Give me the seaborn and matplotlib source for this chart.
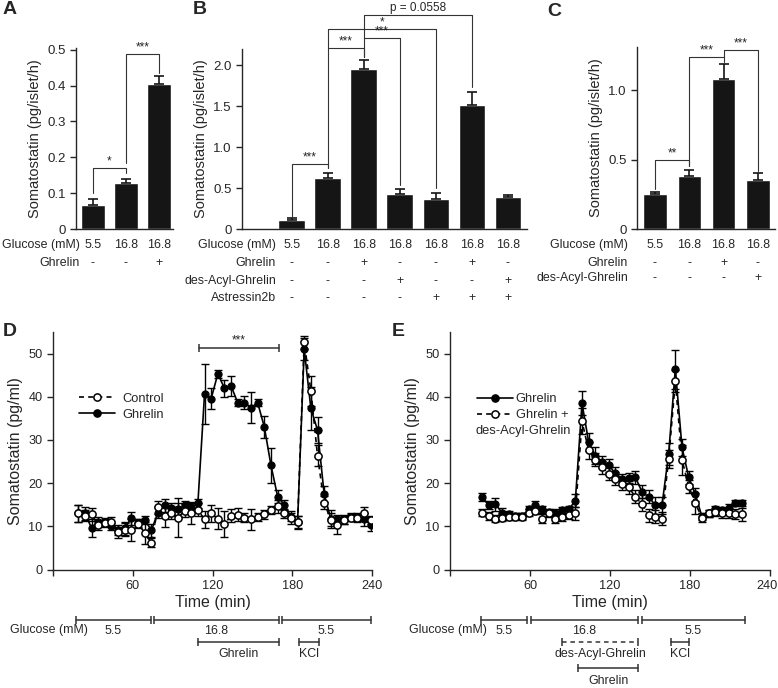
import numpy as np
import pandas as pd
import matplotlib
matplotlib.use('Agg')
import matplotlib.pyplot as plt
import matplotlib.transforms as mtransforms
from matplotlib.ticker import FuncFormatter
from matplotlib.lines import Line2D
import seaborn as sns

sns.set_style('ticks')
plt.rcParams['font.family'] = ['Liberation Sans', 'DejaVu Sans']
plt.rcParams['axes.linewidth'] = 1.0
plt.rcParams['xtick.major.width'] = 1.0
plt.rcParams['ytick.major.width'] = 1.0

# ---- bar panels (A, B, C) ----
A_glucose = ['5.5', '16.8', '16.8']
A_ghrelin = ['-', '-', '+']
A_mean = [0.068, 0.128, 0.405]
A_sem = [0.016, 0.011, 0.021]

B_glucose = ['5.5', '16.8', '16.8', '16.8', '16.8', '16.8', '16.8']
B_ghrelin = ['-', '-', '+', '-', '-', '+', '-']
B_dag = ['-', '-', '-', '+', '-', '-', '+']
B_ast = ['-', '-', '-', '-', '+', '+', '+']
B_mean = [0.11, 0.62, 1.95, 0.43, 0.37, 1.51, 0.39]
B_sem = [0.02, 0.07, 0.12, 0.06, 0.07, 0.16, 0.025]

C_glucose = ['5.5', '16.8', '16.8', '16.8']
C_ghrelin = ['-', '-', '+', '-']
C_dag = ['-', '-', '-', '+']
C_mean = [0.255, 0.385, 1.08, 0.355]
C_sem = [0.012, 0.04, 0.105, 0.045]

# significance brackets: (bar i, bar j, top, left leg end, right leg end, label)
A_sig = [(0, 1, 0.17, 0.10, 0.155, '*'), (1, 2, 0.488, 0.183, 0.435, '***')]
B_sig = [(0, 1, 0.80, 0.15, 0.74, '***'), (1, 2, 2.21, 0.74, 2.10, '***'),
         (2, 3, 2.33, 2.10, 0.54, '***'), (1, 4, 2.44, 2.21, 0.50, '*'),
         (2, 5, 2.62, 2.33, 1.73, 'p = 0.0558')]
C_sig = [(0, 1, 0.50, 0.285, 0.45, '**'), (1, 2, 1.24, 0.45, 1.20, '***'),
         (2, 3, 1.29, 1.24, 0.42, '***')]

# ---- perifusion time courses (D, E) ----
D_time = [19, 24, 29, 34, 39, 44, 49, 54, 59, 64, 69, 74, 79, 84, 89, 94, 99, 104, 109,
          114, 119, 124, 129, 134, 139, 144, 149, 154, 159, 164, 169, 174, 179, 184,
          189, 194, 199, 204, 209, 214, 219, 224, 229, 234, 239]
D_ghrelin = [13.0, 13.0, 9.6, 11.1, 11.1, 10.0, 9.2, 9.6, 11.9, 10.8, 11.5, 9.1, 13.2, 14.9,
             14.2, 13.9, 14.9, 14.4, 15.3,
             40.6, 39.6, 45.3, 42.0, 42.5, 38.6, 38.6, 37.5, 38.6, 33.0, 24.1, 16.9, 15.0,
             12.2, 10.9,
             51.0, 37.3, 32.3, 17.5, 11.7, 11.6, 11.6, 12.2, 12.0, 11.6, 10.4]
D_ghrelin_err = [2.0, 1.5, 2.0, 1.0, 0.8, 0.8, 1.2, 1.5, 1.5, 1.0, 1.0, 1.5, 1.2, 1.5, 1.2,
                 1.5, 1.0, 1.2, 1.0,
                 7.0, 2.5, 1.0, 2.0, 2.3, 0.8, 1.5, 3.6, 0.8, 2.5, 4.0, 1.5, 1.2, 1.0, 1.5,
                 2.5, 5.0, 3.0, 1.8, 2.0, 1.0, 1.0, 0.8, 0.8, 1.5, 1.5]
D_control = [13.0, 12.5, 12.8, 10.2, 10.8, 11.1, 8.6, 9.2, 9.1, 10.6, 8.5, 6.2, 14.4, 12.3,
             13.2, 12.0, 13.6, 13.0, 13.8,
             11.6, 13.0, 11.8, 10.6, 12.4, 12.7, 12.0, 11.6, 12.2, 12.8, 13.8, 14.7, 13.0,
             12.0, 11.0,
             52.6, 41.4, 26.4, 15.5, 11.5, 10.2, 11.5, 12.0, 12.0, 13.0, 11.5]
D_control_err = [2.0, 1.2, 1.5, 1.0, 1.0, 1.0, 1.2, 1.5, 2.5, 1.0, 2.5, 1.0, 1.5, 2.5, 1.5,
                 4.5, 1.5, 2.5, 1.5,
                 2.0, 2.0, 2.5, 3.0, 1.5, 1.5, 1.0, 2.5, 1.0, 1.0, 1.0, 1.5, 1.0, 1.5, 1.5,
                 1.5, 3.5, 2.5, 1.5, 1.5, 2.0, 1.0, 0.8, 1.0, 1.5, 1.0]

E_time = [24, 29, 34, 39, 44, 49, 54, 59, 64, 69, 74, 79, 84, 89, 94, 99, 104, 109, 114,
          119, 124, 129, 134, 139, 144, 149, 154, 159, 164, 169, 174, 179, 184, 189, 194,
          199, 204, 209, 214, 219]
E_ghrelin = [16.8, 14.9, 15.1, 13.2, 12.8, 12.4, 12.4, 13.9, 14.9, 13.9, 13.3, 13.1, 13.7,
             13.9, 15.9, 38.5, 29.5, 26.4, 24.9, 24.1, 22.3, 21.0, 21.2, 21.4, 18.0, 16.8,
             14.9, 14.9, 26.8, 46.4, 28.3, 21.4, 17.4, 12.2, 13.0, 13.9, 13.7, 14.3, 15.4, 15.4]
E_ghrelin_err = [1.0, 1.0, 1.5, 1.0, 0.8, 0.8, 0.8, 0.8, 1.0, 0.8, 0.8, 0.8, 0.8, 0.8, 1.5,
                 2.8, 2.0, 2.0, 1.5, 1.5, 1.5, 1.2, 1.2, 1.5, 1.5, 1.5, 2.0, 2.0, 2.5, 4.5,
                 2.0, 1.5, 1.5, 0.8, 0.8, 0.8, 0.8, 0.8, 0.8, 0.8]
E_dag = [13.1, 12.4, 11.8, 12.0, 12.2, 12.2, 12.2, 13.1, 13.6, 11.8, 13.0, 11.8, 12.2, 12.6,
         13.0, 34.3, 27.6, 25.4, 23.7, 22.2, 21.0, 19.9, 19.1, 16.8, 15.1, 12.6, 12.2, 11.8,
         25.6, 43.6, 25.4, 19.3, 15.3, 12.0, 13.0, 13.3, 13.0, 13.0, 12.8, 12.8]
E_dag_err = [0.8, 1.0, 0.8, 0.8, 0.8, 0.8, 0.8, 0.8, 0.8, 1.0, 0.8, 1.0, 1.0, 1.0, 1.5, 3.0,
             2.0, 1.5, 1.5, 1.5, 1.5, 1.5, 1.5, 1.5, 1.5, 1.5, 1.5, 1.5, 2.0, 2.5, 3.5, 1.5,
             2.5, 1.0, 0.8, 1.0, 1.0, 1.0, 1.2, 1.5]

# protocol bars under D and E: (start, end, label)
D_glucose_periods = [(17, 74, '5.5'), (76, 170, '16.8'), (172, 239, '5.5')]
D_ghrelin_period = (109, 170)
D_kcl_period = (185, 200)
E_glucose_periods = [(23, 58, '5.5'), (60.5, 141, '16.8'), (144, 221, '5.5')]
E_dag_period = (84, 141)
E_ghrelin_period = (96, 141)
E_kcl_period = (166, 179)

W, H = 778, 688
fig = plt.figure(figsize=(W / 100, H / 100), dpi=100)
BAR = '#151515'
LINE = '#333333'
FS = 8.9


def px_axes(l, t, r, b):
    return fig.add_axes([l / W, 1 - b / H, (r - l) / W, (b - t) / H])


def below(ax, dy, dx=0, data_x=True):
    base = (mtransforms.blended_transform_factory(ax.transData, ax.transAxes)
            if data_x else ax.transAxes)
    return mtransforms.offset_copy(base, fig=fig, x=dx, y=-dy, units='dots')


def bar_panel(ax, means, sems, width, xlim, ylim, yticks, rows, label_dx, sig):
    df = pd.DataFrame({'cond': [str(i) for i in range(len(means))], 'val': means})
    sns.barplot(data=df, x='cond', y='val', color=BAR, saturation=1, width=width,
                errorbar=None, ax=ax)
    x = np.arange(len(means))
    ax.errorbar(x, means, yerr=[np.zeros(len(sems)), sems], fmt='none', ecolor=BAR,
                elinewidth=1.2, capsize=3.3, capthick=1.2)
    ax.set_xlim(*xlim)
    ax.set_ylim(*ylim)
    ax.set_yticks(yticks)
    ax.yaxis.set_major_formatter(FuncFormatter(lambda v, p: '0' if v == 0 else f'{v:.1f}'))
    ax.set_xticks([])
    ax.set_xlabel('')
    ax.set_ylabel('Somatostatin (pg/islet/h)', fontsize=10.5)
    ax.tick_params(axis='y', labelsize=9.5, length=4)
    sns.despine(ax=ax)
    for dy, name, vals in rows:
        ax.text(0, 0, name, transform=below(ax, dy, label_dx, data_x=False),
                ha='right', va='center', fontsize=FS)
        for i, v in enumerate(vals):
            ax.text(i, 0, v, transform=below(ax, dy), ha='center', va='center', fontsize=FS)
    for i, j, top, yl, yr, lab in sig:
        ax.plot([i, i, j, j], [yl, top, top, yr], color=LINE, lw=0.8, clip_on=False)
        ax.text((i + j) / 2, top, lab, ha='center', va='bottom', fontsize=8.5,
                transform=mtransforms.offset_copy(ax.transData, fig=fig, y=0.5, units='dots'),
                clip_on=False)


axA = px_axes(76, 48, 173, 229)
bar_panel(axA, A_mean, A_sem, 0.71, (-0.51, 2.43), (0, 0.505),
          [0, 0.1, 0.2, 0.3, 0.4, 0.5],
          [(16, 'Glucose (mM)', A_glucose), (34, 'Ghrelin', A_ghrelin)], 4, A_sig)

axB = px_axes(242, 49, 527, 229)
bar_panel(axB, B_mean, B_sem, 0.74, (-1.38, 6.53), (0, 2.2), [0, 0.5, 1.0, 1.5, 2.0],
          [(16, 'Glucose (mM)', B_glucose), (34, 'Ghrelin', B_ghrelin),
           (52, 'des-Acyl-Ghrelin', B_dag), (69, 'Astressin2b', B_ast)], 34, B_sig)

axC = px_axes(637, 47, 775, 229)
bar_panel(axC, C_mean, C_sem, 0.68, (-0.52, 3.5), (0, 1.31), [0, 0.5, 1.0],
          [(16, 'Glucose (mM)', C_glucose), (34, 'Ghrelin', C_ghrelin),
           (49, 'des-Acyl-Ghrelin', C_dag)], -9, C_sig)


def tline(ax, start, end, dy, dashed=False):
    tr = below(ax, dy)
    ax.plot([start, end], [0, 0], color=LINE, lw=1.1, transform=tr, clip_on=False,
            ls=(0, (3, 2.5)) if dashed else '-')
    ax.plot([start, end], [0, 0], ls='none', marker='|', ms=6, mew=1.1, color=LINE,
            transform=tr, clip_on=False)


def time_panel(ax, t, solid, solid_err, dashed, dashed_err):
    df = pd.DataFrame({'time': t, 'solid': solid, 'dashed': dashed})
    ax.errorbar(t, solid, yerr=solid_err, fmt='none', ecolor='black', elinewidth=1,
                capsize=2.8, capthick=1, zorder=2)
    ax.errorbar(t, dashed, yerr=dashed_err, fmt='none', ecolor='black', elinewidth=1,
                capsize=2.8, capthick=1, zorder=2)
    sns.lineplot(data=df, x='time', y='solid', ax=ax, color='black', lw=1.2, marker='o',
                 markersize=5.2, markerfacecolor='black', markeredgecolor='black',
                 errorbar=None, zorder=3)
    sns.lineplot(data=df, x='time', y='dashed', ax=ax, color='black', lw=1.2,
                 linestyle=(0, (3, 2.5)), marker='o', markersize=5.2,
                 markerfacecolor='white', markeredgecolor='black', markeredgewidth=1.1,
                 errorbar=None, zorder=4)
    ax.set_xlim(0, 240)
    ax.set_ylim(0, 55)
    ax.set_xticks([0, 60, 120, 180, 240])
    ax.set_xticklabels(['', '60', '120', '180', '240'])
    ax.set_yticks([0, 10, 20, 30, 40, 50])
    ax.tick_params(labelsize=9.2, length=4)
    ax.set_xlabel('Time (min)', fontsize=11.5, labelpad=2)
    ax.set_ylabel('Somatostatin (pg/ml)', fontsize=11.5)
    sns.despine(ax=ax)


def legend_handles(first_solid):
    solid = Line2D([], [], color='black', lw=1.2, marker='o', ms=5.2, mfc='black', mec='black')
    dashed = Line2D([], [], color='black', lw=1.2, ls=(0, (3, 2.5)), marker='o', ms=5.2,
                    mfc='white', mec='black', mew=1.1)
    return [solid, dashed] if first_solid else [dashed, solid]


axD = px_axes(53, 332, 372, 569.5)
time_panel(axD, D_time, D_ghrelin, D_ghrelin_err, D_control, D_control_err)
axD.legend(legend_handles(False), ['Control', 'Ghrelin'], loc='center left',
           bbox_to_anchor=(0.08, 0.685), frameon=False, fontsize=9.3, handlelength=2.8,
           handletextpad=0.6, labelspacing=0.3, borderpad=0, borderaxespad=0)
axD.plot([110, 170], [51.2, 51.2], color=LINE, lw=1.1, marker='|', ms=6, mew=1.1)
axD.text(140, 51.6, '***', ha='center', va='bottom', fontsize=8.5)
axD.text(0, 0, 'Glucose (mM)', transform=below(axD, 61, 35, data_x=False), ha='right',
         va='center', fontsize=FS)
for s, e, lab in D_glucose_periods:
    tline(axD, s, e, 50)
    axD.text((s + e) / 2, 0, lab, transform=below(axD, 61), ha='center', va='center', fontsize=FS)
tline(axD, *D_ghrelin_period, 72)
axD.text(sum(D_ghrelin_period) / 2, 0, 'Ghrelin', transform=below(axD, 84.5), ha='center',
         va='center', fontsize=FS)
tline(axD, *D_kcl_period, 72)
axD.text(sum(D_kcl_period) / 2, 0, 'KCl', transform=below(axD, 84.5), ha='center',
         va='center', fontsize=FS)

axE = px_axes(450, 332, 770, 569.5)
time_panel(axE, E_time, E_ghrelin, E_ghrelin_err, E_dag, E_dag_err)
# keep the last tick label inside the picture, as in the reference
last = axE.get_xticklabels()[-1]
last.set_transform(last.get_transform() + mtransforms.Affine2D().translate(-3, 0))
axE.legend(legend_handles(True), ['Ghrelin', 'Ghrelin +'], loc='center left',
           bbox_to_anchor=(0.084, 0.684), frameon=False, fontsize=9.3, handlelength=2.8,
           handletextpad=0.2, labelspacing=0.3, borderpad=0, borderaxespad=0)
axE.text(0.081, 0.582, 'des-Acyl-Ghrelin', transform=axE.transAxes, ha='left', va='center',
         fontsize=9.3)
axE.text(0, 0, 'Glucose (mM)', transform=below(axE, 61, 37, data_x=False), ha='right',
         va='center', fontsize=FS)
for s, e, lab in E_glucose_periods:
    tline(axE, s, e, 50)
    axE.text((s + e) / 2, 0, lab, transform=below(axE, 61), ha='center', va='center', fontsize=FS)
tline(axE, *E_dag_period, 72, dashed=True)
axE.text(sum(E_dag_period) / 2, 0, 'des-Acyl-Ghrelin', transform=below(axE, 84.5),
         ha='center', va='center', fontsize=FS)
tline(axE, *E_kcl_period, 72)
axE.text(sum(E_kcl_period) / 2, 0, 'KCl', transform=below(axE, 84.5), ha='center',
         va='center', fontsize=FS)
tline(axE, *E_ghrelin_period, 98)
axE.text(sum(E_ghrelin_period) / 2, 0, 'Ghrelin', transform=below(axE, 111.5), ha='center',
         va='center', fontsize=FS)

# panel letters
for lab, x, y in [('A', 3, 10), ('B', 193, 10), ('C', 547, 12), ('D', 3, 331), ('E', 392, 331)]:
    fig.text(x / W, 1 - y / H, lab, fontsize=14, fontweight='bold', va='center', ha='left')

fig.savefig('out.png', dpi=100)
